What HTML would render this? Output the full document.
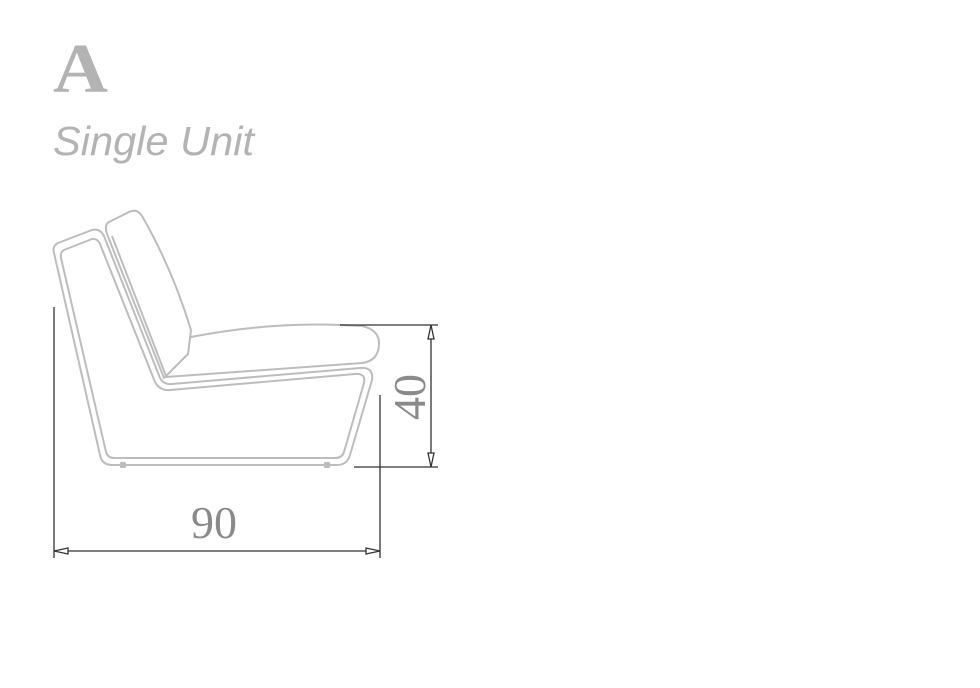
<!DOCTYPE html>
<html><head><meta charset="utf-8"><style>
html,body{margin:0;padding:0;background:#fff;width:980px;height:688px;overflow:hidden}
</style></head><body>
<svg width="980" height="688" viewBox="0 0 980 688" xmlns="http://www.w3.org/2000/svg">
<text x="53" y="92" font-family="Liberation Serif, serif" font-weight="bold" font-size="70" fill="#b3b3b3" textLength="55" lengthAdjust="spacingAndGlyphs">A</text>
<text x="53" y="155" font-family="Liberation Sans, sans-serif" font-style="italic" font-size="41" fill="#b3b3b3" textLength="201" lengthAdjust="spacingAndGlyphs">Single Unit</text>
<g fill="none" stroke="#bdbdbd" stroke-width="2" stroke-linejoin="round">
<path d="M58,243 L92,230 Q100,228 104,236 L160,378 Q164,385 172,384 L360,368 Q374,367 372,380 L350,455 Q347,465 337,465 L112,465 Q102,465 100,455 L54,253 Q52,246 58,243 Z"/>
<path d="M64,250 L92,239 Q97,238 100,244 L155,382 Q160,391 170,390 L355,374 Q366,373 364,383 L344,452 Q342,458 335,458 L114,458 Q108,458 106,452 L61,258 Q60,252 64,250 Z"/>
<path d="M109,222 L129,212 Q137,208 142,216 Q172,268 191,330 L188,354 L164,378 L107,234 Q104,225 109,222 Z"/>
<path d="M112,236 L166,376"/>
<path d="M191,337 Q270,322 340,325 L362,326 Q380,330 379,345 Q378,361 362,363 L166,377"/>
<rect x="121" y="463" width="4" height="4"/>
<rect x="325" y="463" width="4" height="4"/>
</g>
<g stroke="#333" stroke-width="1.3" fill="none">
<line x1="54" y1="307" x2="54" y2="558"/>
<line x1="380" y1="395" x2="380" y2="558"/>
<line x1="54" y1="551" x2="380" y2="551"/>
<line x1="340" y1="325" x2="438" y2="325"/>
<line x1="354" y1="467" x2="438" y2="467"/>
<line x1="431" y1="325" x2="431" y2="467"/>
<path d="M54,551 L68,548 L68,554 Z M380,551 L366,548 L366,554 Z M431,325 L428,339 L434,339 Z M431,467 L428,453 L434,453 Z" fill="#fff"/>
</g>
<text x="214" y="538" text-anchor="middle" font-family="Liberation Serif, serif" font-size="46" fill="#8a8a8a">90</text>
<text transform="translate(425,397) rotate(-90)" text-anchor="middle" font-family="Liberation Serif, serif" font-size="46" fill="#8a8a8a">40</text>
</svg>
</body></html>
